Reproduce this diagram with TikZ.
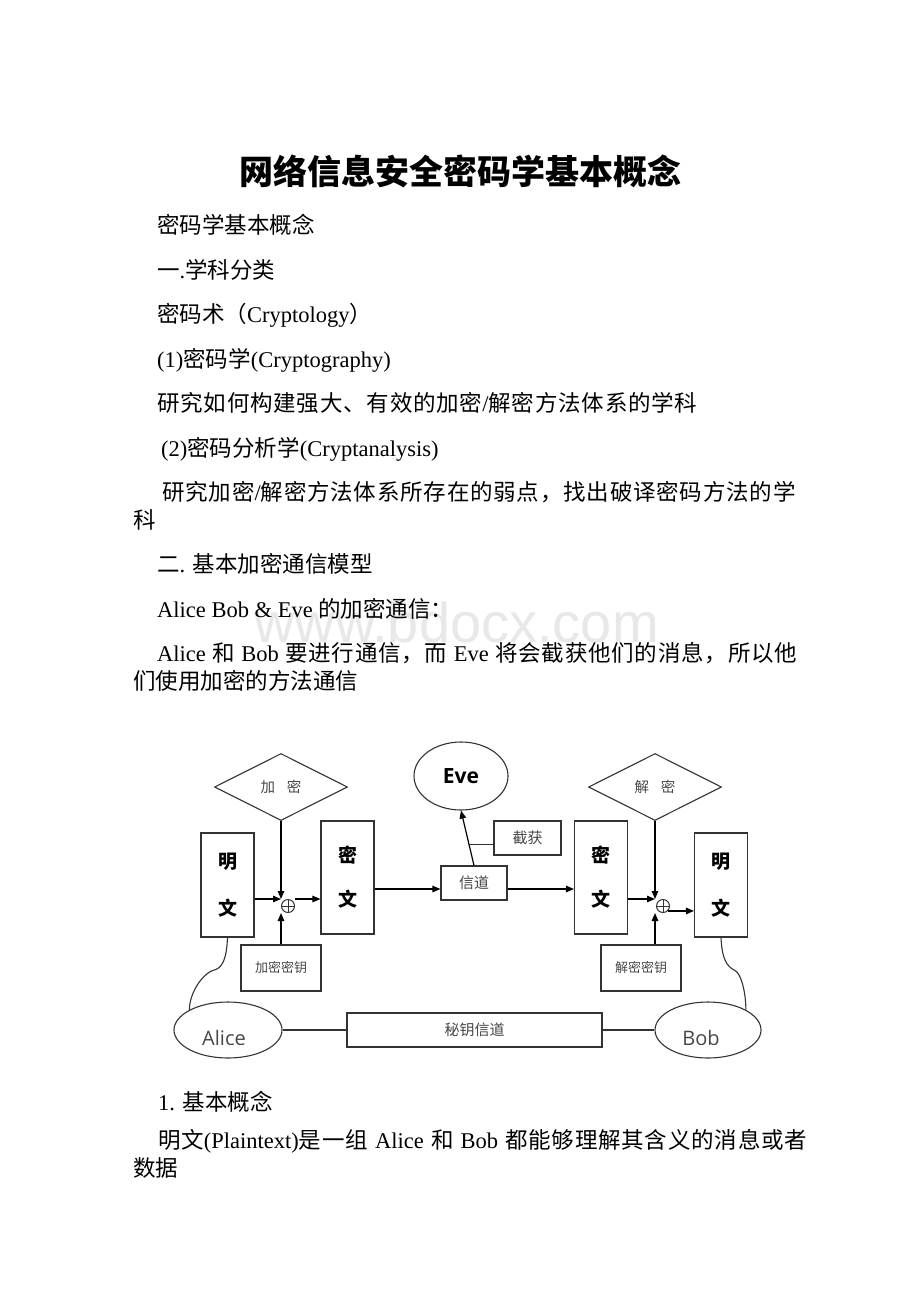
\documentclass[tikz,border=0pt]{standalone}
\usepackage{fontspec}
\setmainfont{Liberation Serif}
\newfontfamily\zhfont{Noto Sans CJK SC}
\newfontfamily\sansfont{Open Sans}
\newfontfamily\wmfont{Liberation Sans}
\newcommand{\zh}[1]{{\zhfont #1}}
\newcommand{\zhw}[1]{{\zhfont\addfontfeature{LetterSpace=3.5}#1}}
\usetikzlibrary{calc,positioning,shapes.geometric,arrows.meta}
\definecolor{lnc}{gray}{0.2}
\definecolor{lbc}{gray}{0.28}
\definecolor{wmc}{gray}{0.91}

\begin{document}
\begin{tikzpicture}[x=1pt,y=-1pt,
	body/.style={anchor=base west,inner sep=0pt,font=\fontsize{22.5}{27}\selectfont},
	rbox/.style={draw=lnc,line width=1.1pt,rectangle,inner sep=0pt},
	tallbox/.style={rbox,minimum width=53pt,align=center,font=\fontsize{19}{23}\zhfont\bfseries},
	lbl/.style={rbox,text=lbc,font=\fontsize{15}{18}\zhfont},
	keybox/.style={lbl,minimum width=80pt,minimum height=46pt,font=\fontsize{13}{16}\zhfont},
	op/.style={diamond,draw=lnc,line width=1.1pt,aspect=2,minimum width=133pt,minimum height=67pt,inner sep=0pt,text=lbc,font=\fontsize{14.5}{16}\zhfont},
	who/.style={draw=lnc,line width=1.1pt,ellipse,inner sep=0pt},
	xr/.style={circle,draw=lnc,line width=1pt,minimum size=13pt,inner sep=0pt},
	arr/.style={-{Triangle[length=8pt,width=6.5pt]},line width=1.2pt}]
	\fill[white] (0,0) rectangle (920,1302);
	\useasboundingbox (0,0) rectangle (920,1302);
	\node[anchor=base west,inner sep=0pt,text=wmc,font=\fontsize{56}{60}\wmfont] (wm) at (254,642) {www.bdocx.com};
	
	\node[anchor=base,inner sep=0pt,font=\fontsize{34}{40}\zhfont\bfseries] (title) at (460,184) {网络信息安全密码学基本概念};
	\node[body] (l1) at (157,233.5) {\zh{密码学基本概念}};
	\node[body] (l2) at (157,278) {\zh{一}.\zh{学科分类}};
	\node[body] (l3) at (157,322.5) {\zh{密码术（}Cryptology\zh{）}};
	\node[body] (l4) at (157,367) {(1)\zh{密码学}(Cryptography)};
	\node[body] (l5) at (157,411.5) {\zhw{研究如何构建强大、有效的加密}/\zhw{解密方法体系的学科}};
	\node[body] (l6) at (161,456) {(2)\zh{密码分析学}(Cryptanalysis)};
	\node[body] (l7) at (162,500.5) {\zhw{研究加密}/\zhw{解密方法体系所存在的弱点，找出破译密码方法的学}};
	\node[body] (l7b) at (133,528.5) {\zh{科}};
	\node[body] (l8) at (157,572.5) {\zh{二}. \zh{基本加密通信模型}};
	\node[body] (l9) at (157,617) {Alice Bob \& Eve \zh{的加密通信：}};
	\node[body] (l10) at (157,661.5) {\makebox[640pt][s]{Alice \zh{和} Bob \zhw{要进行通信，而} Eve \zhw{将会截获他们的消息，所以他}}};
	\node[body] (l10b) at (133,689.5) {\zh{们使用加密的方法通信}};
	\node[body] (l11) at (158,1110.5) {1. \zh{基本概念}};
	\node[body] (l12) at (158,1148.5) {\makebox[649pt][s]{\zhw{明文}(Plaintext)\zhw{是一组} Alice \zh{和} Bob \zhw{都能够理解其含义的消息或者}}};
	\node[body] (l12b) at (133,1176.5) {\zh{数据}};
	
	\node[op] (enc) at (281,787) {加\hspace{0.8em}密};
	\node[op] (dec) at (655,787) {解\hspace{0.8em}密};
	\node[who,minimum width=94pt,minimum height=68pt,font=\fontsize{21}{24}\sansfont\bfseries] (eve) at (461,776) {Eve};
	\node[tallbox,minimum height=104pt] (ptL) at (227.5,885) {明\\[24pt]文};
	\node[tallbox,minimum height=113pt] (ctL) at (347.5,877.5) {密\\[21pt]文};
	\node[tallbox,minimum height=113pt] (ctR) at (601,877.5) {密\\[21pt]文};
	\node[tallbox,minimum height=104pt] (ptR) at (721,885) {明\\[24pt]文};
	\node[lbl,minimum width=66pt,minimum height=34pt] (chan) at (474,883) {信道};
	\node[lbl,minimum width=67pt,minimum height=34pt] (grab) at (527.5,838) {截获};
	\node[keybox] (keyE) at (281,968) {加密密钥};
	\node[keybox] (keyD) at (641,968) {解密密钥};
	\node[lbl,minimum width=255pt,minimum height=34pt] (sec) at (474.5,1030) {秘钥信道};
	\node[who,minimum width=108pt,minimum height=56pt] (alice) at (228,1030) {};
	\node[who,minimum width=106pt,minimum height=56pt] (bob) at (708,1030) {};
	\begin{scope}
		\clip (150,1000) rectangle (780,1044);
		\node[anchor=base,inner sep=0pt,text=lbc,font=\fontsize{20}{24}\sansfont] (aname) at (224,1045) {Alice};
		\node[anchor=base,inner sep=0pt,text=lbc,font=\fontsize{20}{24}\sansfont] (bname) at (701,1045) {Bob};
	\end{scope}
	\node[xr] (oL) at (288,906) {};
	\node[xr] (oR) at (663,906) {};
	\draw[lnc,line width=1pt] (oL.north) -- (oL.south) (oL.west) -- (oL.east)
		(oR.north) -- (oR.south) (oR.west) -- (oR.east);
	
	\coordinate (jL) at (281,899);
	\coordinate (jR) at (655,899);
	\coordinate (tap) at ($(chan.north)!0.39!(eve.south)$);
	\coordinate (chL) at ([yshift=-6pt]chan.west);
	\path[arr]
		(enc.south) edge (jL)
		(ptL.east |- jL) edge (jL)
		(keyE.north) edge (keyE.north |- oL.south)
		(oL.east |- jL) edge (ctL.west |- jL)
		(ctL.east |- chL) edge (chL)
		(chan.east |- chL) edge (ctR.west |- chL)
		(chan.north) edge (eve.south)
		(dec.south) edge (jR)
		(ctR.east |- jR) edge (jR)
		(keyD.north -| jR) edge (jR |- oR.south)
		(oR.south east) edge (ptR.west |- oR.south east);
	\draw[lnc,line width=1.1pt] (grab.west |- tap) -- (tap)
		(alice.east) -- (sec.west)
		(sec.east) -- (bob.west);
	\draw[lnc,line width=1.1pt] (ptL.south) .. controls +(-1,22) and +(10,-2) .. ++(-15,33)
		.. controls +(-9,3) and +(0,-18) .. (alice.north west);
	\draw[lnc,line width=1.1pt] (ptR.south) .. controls +(1,22) and +(-8,-4) .. ++(14,33)
		.. controls +(6,3) and +(0,-18) .. (bob.north east);
\end{tikzpicture}
\end{document}
